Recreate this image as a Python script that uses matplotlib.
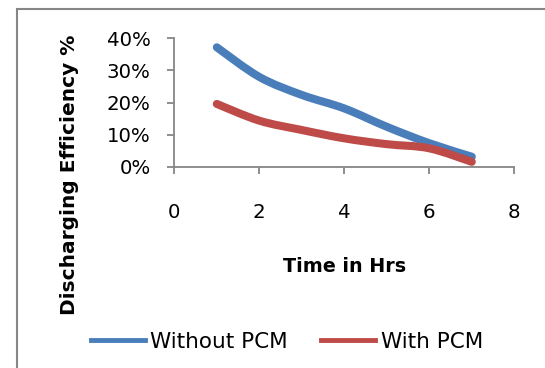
import matplotlib
matplotlib.use('Agg')
import matplotlib.pyplot as plt
from matplotlib.patches import Rectangle, PathPatch
from matplotlib.path import Path
from matplotlib.lines import Line2D
from matplotlib.ticker import PercentFormatter

# Data
hours = [1, 2, 3, 4, 5, 6, 7]
without_pcm = [0.372, 0.280, 0.224, 0.182, 0.125, 0.074, 0.032]
with_pcm = [0.196, 0.144, 0.115, 0.089, 0.071, 0.058, 0.016]
x_ticks = [0, 2, 4, 6, 8]
y_ticks = [0.0, 0.1, 0.2, 0.3, 0.4]

blue = '#4A7EBB'
red = '#BE4B48'
grey = '#868686'

plt.rcParams['font.family'] = ['DejaVu Sans']


def smooth_path(xs, ys):
    # Excel-style smoothed line: Bezier segments through the data points
    pts = list(zip(xs, ys))
    n = len(pts)
    verts = [pts[0]]
    codes = [Path.MOVETO]
    for i in range(n - 1):
        p0 = pts[max(i - 1, 0)]
        p1 = pts[i]
        p2 = pts[i + 1]
        p3 = pts[min(i + 2, n - 1)]
        c1 = (p1[0] + (p2[0] - p0[0]) / 6, p1[1] + (p2[1] - p0[1]) / 6)
        c2 = (p2[0] - (p3[0] - p1[0]) / 6, p2[1] - (p3[1] - p1[1]) / 6)
        verts += [c1, c2, p2]
        codes += [Path.CURVE4] * 3
    return Path(verts, codes)


fig = plt.figure(figsize=(5.45, 3.68), dpi=100)
ax = fig.add_axes([174.3 / 545, 1 - 167 / 368, 340 / 545, 128.7 / 368])

# Chart border (only top and left edges fall inside the image)
fig.patches.append(Rectangle((17 / 545, -0.1), 1.2, 1.1 - 9 / 368,
                             transform=fig.transFigure, fill=False,
                             edgecolor=grey, linewidth=1.5))

series = [('Without PCM', without_pcm, blue), ('With PCM', with_pcm, red)]
handles = []
for name, values, colour in series:
    patch = PathPatch(smooth_path(hours, values), fill=False, edgecolor=colour,
                      lw=5.8, capstyle='round', joinstyle='round')
    ax.add_patch(patch)
    handles.append(Line2D([], [], color=colour, lw=3.5, label=name))

ax.set_xlim(0, 8)
ax.set_ylim(0, 0.4)
ax.set_xticks(x_ticks)
ax.set_yticks(y_ticks)
ax.yaxis.set_major_formatter(PercentFormatter(1.0, decimals=0))

for side in ['top', 'right']:
    ax.spines[side].set_visible(False)
for side in ['left', 'bottom']:
    ax.spines[side].set_color(grey)
    ax.spines[side].set_linewidth(1.3)

ax.tick_params(axis='both', colors=grey, labelcolor='black', width=1.3,
               length=5, labelsize=14.2)
ax.tick_params(axis='y', pad=12)
ax.tick_params(axis='x', pad=21)

ax.set_xlabel('Time in Hrs', fontsize=13.8, fontweight='bold', va='center')
ax.xaxis.set_label_coords(0.501, -0.777)
ax.set_ylabel('Discharging Efficiency %', fontsize=14.5, fontweight='bold',
              va='center', ha='center')
ax.yaxis.set_label_coords((70 - 174.3) / 340, (167 - 174.5) / 128.7)

fig.legend(handles=handles, loc='center',
           bbox_to_anchor=(287 / 545, 1 - 341.6 / 368),
           ncol=2, frameon=False, fontsize=15.5, handlelength=2.5,
           handletextpad=0.25, columnspacing=1.55, borderpad=0)

fig.savefig('out.png', dpi=100)
